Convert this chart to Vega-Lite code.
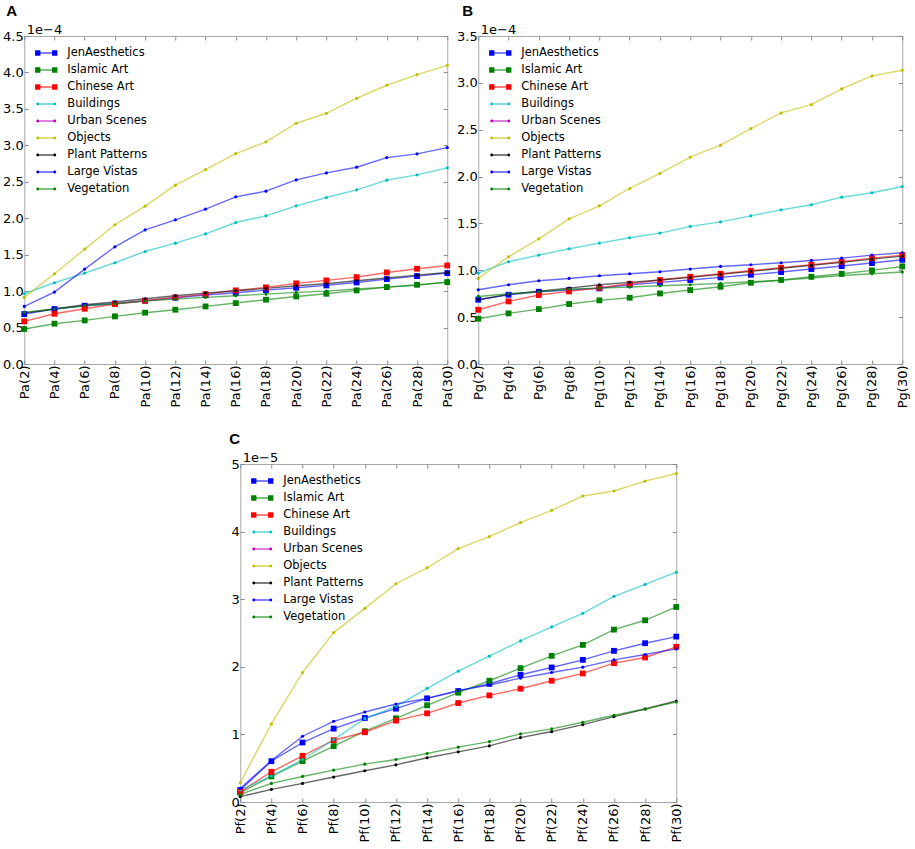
{
"$schema":"https://vega.github.io/schema/vega-lite/v6.json",
"padding":{"left":2,"top":3,"right":0,"bottom":0},
"background":"white",
"config":{
 "view":{"stroke":"#a8a8a8","strokeWidth":1},
 "axis":{"labelFont":"DejaVu Sans","labelFontSize":13,"labelColor":"black","grid":false,"domain":false,"tickColor":"#888","tickSize":-4,"labelPadding":5},
 "title":{"font":"Liberation Sans","fontSize":15,"fontWeight":"bold","anchor":"start","frame":"group","color":"black"},
 "legend":{"orient":"none","legendX":11,"legendY":6,"padding":0,"labelFont":"DejaVu Sans","labelFontSize":11.5,"labelColor":"black","symbolSize":450,"symbolOpacity":1,"symbolStrokeWidth":0,"rowPadding":-1,"labelOffset":10,"title":null}
},
"datasets":{
 "A":[
  {"n":2,"x":"Pa(2)","JenAesthetics":0.685e-4,"Islamic Art":0.480e-4,"Chinese Art":0.585e-4,"Buildings":0.964e-4,"Urban Scenes":null,"Objects":0.914e-4,"Plant Patterns":0.699e-4,"Large Vistas":0.790e-4,"Vegetation":0.708e-4},
  {"n":4,"x":"Pa(4)","JenAesthetics":0.754e-4,"Islamic Art":0.553e-4,"Chinese Art":0.690e-4,"Buildings":1.115e-4,"Urban Scenes":null,"Objects":1.238e-4,"Plant Patterns":0.754e-4,"Large Vistas":0.987e-4,"Vegetation":0.754e-4},
  {"n":6,"x":"Pa(6)","JenAesthetics":0.800e-4,"Islamic Art":0.598e-4,"Chinese Art":0.758e-4,"Buildings":1.247e-4,"Urban Scenes":null,"Objects":1.576e-4,"Plant Patterns":0.813e-4,"Large Vistas":1.302e-4,"Vegetation":0.800e-4},
  {"n":8,"x":"Pa(8)","JenAesthetics":0.831e-4,"Islamic Art":0.653e-4,"Chinese Art":0.822e-4,"Buildings":1.389e-4,"Urban Scenes":null,"Objects":1.910e-4,"Plant Patterns":0.850e-4,"Large Vistas":1.608e-4,"Vegetation":0.827e-4},
  {"n":10,"x":"Pa(10)","JenAesthetics":0.868e-4,"Islamic Art":0.704e-4,"Chinese Art":0.868e-4,"Buildings":1.544e-4,"Urban Scenes":null,"Objects":2.165e-4,"Plant Patterns":0.895e-4,"Large Vistas":1.841e-4,"Vegetation":0.863e-4},
  {"n":12,"x":"Pa(12)","JenAesthetics":0.909e-4,"Islamic Art":0.745e-4,"Chinese Art":0.914e-4,"Buildings":1.658e-4,"Urban Scenes":null,"Objects":2.453e-4,"Plant Patterns":0.936e-4,"Large Vistas":1.978e-4,"Vegetation":0.891e-4},
  {"n":14,"x":"Pa(14)","JenAesthetics":0.946e-4,"Islamic Art":0.790e-4,"Chinese Art":0.959e-4,"Buildings":1.786e-4,"Urban Scenes":null,"Objects":2.668e-4,"Plant Patterns":0.973e-4,"Large Vistas":2.124e-4,"Vegetation":0.914e-4},
  {"n":16,"x":"Pa(16)","JenAesthetics":0.978e-4,"Islamic Art":0.836e-4,"Chinese Art":1.010e-4,"Buildings":1.941e-4,"Urban Scenes":null,"Objects":2.887e-4,"Plant Patterns":1.005e-4,"Large Vistas":2.293e-4,"Vegetation":0.937e-4},
  {"n":18,"x":"Pa(18)","JenAesthetics":1.014e-4,"Islamic Art":0.882e-4,"Chinese Art":1.051e-4,"Buildings":2.033e-4,"Urban Scenes":null,"Objects":3.047e-4,"Plant Patterns":1.037e-4,"Large Vistas":2.371e-4,"Vegetation":0.959e-4},
  {"n":20,"x":"Pa(20)","JenAesthetics":1.046e-4,"Islamic Art":0.927e-4,"Chinese Art":1.106e-4,"Buildings":2.170e-4,"Urban Scenes":null,"Objects":3.303e-4,"Plant Patterns":1.074e-4,"Large Vistas":2.526e-4,"Vegetation":0.982e-4},
  {"n":22,"x":"Pa(22)","JenAesthetics":1.078e-4,"Islamic Art":0.964e-4,"Chinese Art":1.147e-4,"Buildings":2.284e-4,"Urban Scenes":null,"Objects":3.440e-4,"Plant Patterns":1.101e-4,"Large Vistas":2.622e-4,"Vegetation":1.000e-4},
  {"n":24,"x":"Pa(24)","JenAesthetics":1.119e-4,"Islamic Art":1.010e-4,"Chinese Art":1.192e-4,"Buildings":2.389e-4,"Urban Scenes":null,"Objects":3.646e-4,"Plant Patterns":1.142e-4,"Large Vistas":2.700e-4,"Vegetation":1.028e-4},
  {"n":26,"x":"Pa(26)","JenAesthetics":1.165e-4,"Islamic Art":1.055e-4,"Chinese Art":1.256e-4,"Buildings":2.522e-4,"Urban Scenes":null,"Objects":3.824e-4,"Plant Patterns":1.179e-4,"Large Vistas":2.832e-4,"Vegetation":1.055e-4},
  {"n":28,"x":"Pa(28)","JenAesthetics":1.206e-4,"Islamic Art":1.087e-4,"Chinese Art":1.307e-4,"Buildings":2.595e-4,"Urban Scenes":null,"Objects":3.970e-4,"Plant Patterns":1.220e-4,"Large Vistas":2.883e-4,"Vegetation":1.078e-4},
  {"n":30,"x":"Pa(30)","JenAesthetics":1.247e-4,"Islamic Art":1.124e-4,"Chinese Art":1.352e-4,"Buildings":2.691e-4,"Urban Scenes":null,"Objects":4.098e-4,"Plant Patterns":1.256e-4,"Large Vistas":2.969e-4,"Vegetation":1.124e-4}
 ],
 "B":[
  {"n":2,"x":"Pg(2)","JenAesthetics":0.686e-4,"Islamic Art":0.483e-4,"Chinese Art":0.579e-4,"Buildings":0.970e-4,"Urban Scenes":null,"Objects":0.913e-4,"Plant Patterns":0.686e-4,"Large Vistas":0.792e-4,"Vegetation":0.721e-4},
  {"n":4,"x":"Pg(4)","JenAesthetics":0.739e-4,"Islamic Art":0.540e-4,"Chinese Art":0.668e-4,"Buildings":1.091e-4,"Urban Scenes":null,"Objects":1.144e-4,"Plant Patterns":0.743e-4,"Large Vistas":0.846e-4,"Vegetation":0.750e-4},
  {"n":6,"x":"Pg(6)","JenAesthetics":0.771e-4,"Islamic Art":0.586e-4,"Chinese Art":0.736e-4,"Buildings":1.162e-4,"Urban Scenes":null,"Objects":1.336e-4,"Plant Patterns":0.778e-4,"Large Vistas":0.888e-4,"Vegetation":0.771e-4},
  {"n":8,"x":"Pg(8)","JenAesthetics":0.789e-4,"Islamic Art":0.640e-4,"Chinese Art":0.775e-4,"Buildings":1.230e-4,"Urban Scenes":null,"Objects":1.549e-4,"Plant Patterns":0.810e-4,"Large Vistas":0.913e-4,"Vegetation":0.800e-4},
  {"n":10,"x":"Pg(10)","JenAesthetics":0.807e-4,"Islamic Art":0.679e-4,"Chinese Art":0.814e-4,"Buildings":1.290e-4,"Urban Scenes":null,"Objects":1.688e-4,"Plant Patterns":0.846e-4,"Large Vistas":0.942e-4,"Vegetation":0.810e-4},
  {"n":12,"x":"Pg(12)","JenAesthetics":0.846e-4,"Islamic Art":0.707e-4,"Chinese Art":0.856e-4,"Buildings":1.347e-4,"Urban Scenes":null,"Objects":1.873e-4,"Plant Patterns":0.871e-4,"Large Vistas":0.963e-4,"Vegetation":0.821e-4},
  {"n":14,"x":"Pg(14)","JenAesthetics":0.871e-4,"Islamic Art":0.753e-4,"Chinese Art":0.896e-4,"Buildings":1.397e-4,"Urban Scenes":null,"Objects":2.033e-4,"Plant Patterns":0.896e-4,"Large Vistas":0.984e-4,"Vegetation":0.835e-4},
  {"n":16,"x":"Pg(16)","JenAesthetics":0.896e-4,"Islamic Art":0.789e-4,"Chinese Art":0.931e-4,"Buildings":1.468e-4,"Urban Scenes":null,"Objects":2.207e-4,"Plant Patterns":0.924e-4,"Large Vistas":1.013e-4,"Vegetation":0.846e-4},
  {"n":18,"x":"Pg(18)","JenAesthetics":0.924e-4,"Islamic Art":0.824e-4,"Chinese Art":0.963e-4,"Buildings":1.517e-4,"Urban Scenes":null,"Objects":2.335e-4,"Plant Patterns":0.956e-4,"Large Vistas":1.041e-4,"Vegetation":0.860e-4},
  {"n":20,"x":"Pg(20)","JenAesthetics":0.952e-4,"Islamic Art":0.867e-4,"Chinese Art":0.995e-4,"Buildings":1.581e-4,"Urban Scenes":null,"Objects":2.512e-4,"Plant Patterns":0.988e-4,"Large Vistas":1.059e-4,"Vegetation":0.878e-4},
  {"n":22,"x":"Pg(22)","JenAesthetics":0.981e-4,"Islamic Art":0.896e-4,"Chinese Art":1.027e-4,"Buildings":1.645e-4,"Urban Scenes":null,"Objects":2.679e-4,"Plant Patterns":1.020e-4,"Large Vistas":1.080e-4,"Vegetation":0.892e-4},
  {"n":24,"x":"Pg(24)","JenAesthetics":1.013e-4,"Islamic Art":0.931e-4,"Chinese Art":1.059e-4,"Buildings":1.699e-4,"Urban Scenes":null,"Objects":2.768e-4,"Plant Patterns":1.052e-4,"Large Vistas":1.105e-4,"Vegetation":0.917e-4},
  {"n":26,"x":"Pg(26)","JenAesthetics":1.045e-4,"Islamic Art":0.963e-4,"Chinese Art":1.091e-4,"Buildings":1.780e-4,"Urban Scenes":null,"Objects":2.935e-4,"Plant Patterns":1.084e-4,"Large Vistas":1.130e-4,"Vegetation":0.945e-4},
  {"n":28,"x":"Pg(28)","JenAesthetics":1.077e-4,"Islamic Art":0.999e-4,"Chinese Art":1.130e-4,"Buildings":1.827e-4,"Urban Scenes":null,"Objects":3.074e-4,"Plant Patterns":1.119e-4,"Large Vistas":1.162e-4,"Vegetation":0.963e-4},
  {"n":30,"x":"Pg(30)","JenAesthetics":1.112e-4,"Islamic Art":1.041e-4,"Chinese Art":1.162e-4,"Buildings":1.894e-4,"Urban Scenes":null,"Objects":3.134e-4,"Plant Patterns":1.151e-4,"Large Vistas":1.187e-4,"Vegetation":0.981e-4}
 ],
 "C":[
  {"n":2,"x":"Pf(2)","JenAesthetics":0.177e-5,"Islamic Art":0.138e-5,"Chinese Art":0.152e-5,"Buildings":0.177e-5,"Urban Scenes":null,"Objects":0.285e-5,"Plant Patterns":0.079e-5,"Large Vistas":0.201e-5,"Vegetation":0.113e-5},
  {"n":4,"x":"Pf(4)","JenAesthetics":0.604e-5,"Islamic Art":0.378e-5,"Chinese Art":0.447e-5,"Buildings":0.383e-5,"Urban Scenes":null,"Objects":1.155e-5,"Plant Patterns":0.187e-5,"Large Vistas":0.614e-5,"Vegetation":0.275e-5},
  {"n":6,"x":"Pf(6)","JenAesthetics":0.880e-5,"Islamic Art":0.604e-5,"Chinese Art":0.683e-5,"Buildings":0.629e-5,"Urban Scenes":null,"Objects":1.916e-5,"Plant Patterns":0.275e-5,"Large Vistas":0.973e-5,"Vegetation":0.378e-5},
  {"n":8,"x":"Pf(8)","JenAesthetics":1.086e-5,"Islamic Art":0.826e-5,"Chinese Art":0.914e-5,"Buildings":0.924e-5,"Urban Scenes":null,"Objects":2.506e-5,"Plant Patterns":0.369e-5,"Large Vistas":1.194e-5,"Vegetation":0.472e-5},
  {"n":10,"x":"Pf(10)","JenAesthetics":1.243e-5,"Islamic Art":1.047e-5,"Chinese Art":1.032e-5,"Buildings":1.233e-5,"Urban Scenes":null,"Objects":2.865e-5,"Plant Patterns":0.462e-5,"Large Vistas":1.332e-5,"Vegetation":0.560e-5},
  {"n":12,"x":"Pf(12)","JenAesthetics":1.381e-5,"Islamic Art":1.238e-5,"Chinese Art":1.204e-5,"Buildings":1.415e-5,"Urban Scenes":null,"Objects":3.229e-5,"Plant Patterns":0.550e-5,"Large Vistas":1.450e-5,"Vegetation":0.629e-5},
  {"n":14,"x":"Pf(14)","JenAesthetics":1.533e-5,"Islamic Art":1.430e-5,"Chinese Art":1.312e-5,"Buildings":1.681e-5,"Urban Scenes":null,"Objects":3.464e-5,"Plant Patterns":0.654e-5,"Large Vistas":1.533e-5,"Vegetation":0.717e-5},
  {"n":16,"x":"Pf(16)","JenAesthetics":1.641e-5,"Islamic Art":1.617e-5,"Chinese Art":1.464e-5,"Buildings":1.936e-5,"Urban Scenes":null,"Objects":3.749e-5,"Plant Patterns":0.742e-5,"Large Vistas":1.651e-5,"Vegetation":0.811e-5},
  {"n":18,"x":"Pf(18)","JenAesthetics":1.749e-5,"Islamic Art":1.794e-5,"Chinese Art":1.577e-5,"Buildings":2.157e-5,"Urban Scenes":null,"Objects":3.926e-5,"Plant Patterns":0.831e-5,"Large Vistas":1.730e-5,"Vegetation":0.894e-5},
  {"n":20,"x":"Pf(20)","JenAesthetics":1.882e-5,"Islamic Art":1.980e-5,"Chinese Art":1.676e-5,"Buildings":2.383e-5,"Urban Scenes":null,"Objects":4.133e-5,"Plant Patterns":0.953e-5,"Large Vistas":1.833e-5,"Vegetation":1.007e-5},
  {"n":22,"x":"Pf(22)","JenAesthetics":1.990e-5,"Islamic Art":2.162e-5,"Chinese Art":1.794e-5,"Buildings":2.590e-5,"Urban Scenes":null,"Objects":4.314e-5,"Plant Patterns":1.042e-5,"Large Vistas":1.916e-5,"Vegetation":1.081e-5},
  {"n":24,"x":"Pf(24)","JenAesthetics":2.103e-5,"Islamic Art":2.324e-5,"Chinese Art":1.902e-5,"Buildings":2.791e-5,"Urban Scenes":null,"Objects":4.526e-5,"Plant Patterns":1.145e-5,"Large Vistas":1.995e-5,"Vegetation":1.179e-5},
  {"n":26,"x":"Pf(26)","JenAesthetics":2.236e-5,"Islamic Art":2.550e-5,"Chinese Art":2.054e-5,"Buildings":3.042e-5,"Urban Scenes":null,"Objects":4.600e-5,"Plant Patterns":1.263e-5,"Large Vistas":2.103e-5,"Vegetation":1.283e-5},
  {"n":28,"x":"Pf(28)","JenAesthetics":2.349e-5,"Islamic Art":2.688e-5,"Chinese Art":2.138e-5,"Buildings":3.219e-5,"Urban Scenes":null,"Objects":4.747e-5,"Plant Patterns":1.376e-5,"Large Vistas":2.182e-5,"Vegetation":1.376e-5},
  {"n":30,"x":"Pf(30)","JenAesthetics":2.447e-5,"Islamic Art":2.885e-5,"Chinese Art":2.295e-5,"Buildings":3.400e-5,"Urban Scenes":null,"Objects":4.860e-5,"Plant Patterns":1.494e-5,"Large Vistas":2.265e-5,"Vegetation":1.479e-5}
 ]
},
"vconcat":[
 {"hconcat":[
  {"title":{"text":"A","dx":-18,"offset":4},
   "width":423,"height":328,
   "data":{"name":"A"},
   "transform":[{"fold":["JenAesthetics","Islamic Art","Chinese Art","Buildings","Urban Scenes","Objects","Plant Patterns","Large Vistas","Vegetation"],"as":["series","value"]}],
   "layer":[
    {"mark":{"type":"point","filled":true,"opacity":0},
     "encoding":{
      "x":{"field":"x","type":"ordinal","sort":null,"scale":{"type":"point","padding":0},"axis":{"orient":"top","labels":false,"title":null}},
      "y":{"field":"value","type":"quantitative","scale":{"domain":[0,4.5e-4],"nice":false},"axis":{"orient":"right","labels":false,"title":null,"values":[0,0.5e-4,1e-4,1.5e-4,2e-4,2.5e-4,3e-4,3.5e-4,4e-4,4.5e-4]}},
      "color":{"field":"series","type":"nominal","scale":{"domain":["JenAesthetics","Islamic Art","Chinese Art","Buildings","Urban Scenes","Objects","Plant Patterns","Large Vistas","Vegetation"],"range":["#0000ff","#008000","#ff0000","#00bfbf","#bf00bf","#bfbf00","#000000","#0000ff","#008000"]}},
      "shape":{"field":"series","type":"nominal","scale":{"domain":["JenAesthetics","Islamic Art","Chinese Art","Buildings","Urban Scenes","Objects","Plant Patterns","Large Vistas","Vegetation"],"range":[
        "M-0.8,-0.05H0.8V0.05H-0.8Z M-1.05,-0.25H-0.55V0.25H-1.05Z M0.55,-0.25H1.05V0.25H0.55Z",
        "M-0.8,-0.05H0.8V0.05H-0.8Z M-1.05,-0.25H-0.55V0.25H-1.05Z M0.55,-0.25H1.05V0.25H0.55Z",
        "M-0.8,-0.05H0.8V0.05H-0.8Z M-1.05,-0.25H-0.55V0.25H-1.05Z M0.55,-0.25H1.05V0.25H0.55Z",
        "M-0.8,-0.05H0.8V0.05H-0.8Z M-0.94,0a0.14,0.14 0 1,1 0.28,0a0.14,0.14 0 1,1 -0.28,0Z M0.66,0a0.14,0.14 0 1,1 0.28,0a0.14,0.14 0 1,1 -0.28,0Z",
        "M-0.8,-0.05H0.8V0.05H-0.8Z M-0.94,0a0.14,0.14 0 1,1 0.28,0a0.14,0.14 0 1,1 -0.28,0Z M0.66,0a0.14,0.14 0 1,1 0.28,0a0.14,0.14 0 1,1 -0.28,0Z",
        "M-0.8,-0.05H0.8V0.05H-0.8Z M-0.94,0a0.14,0.14 0 1,1 0.28,0a0.14,0.14 0 1,1 -0.28,0Z M0.66,0a0.14,0.14 0 1,1 0.28,0a0.14,0.14 0 1,1 -0.28,0Z",
        "M-0.8,-0.05H0.8V0.05H-0.8Z M-0.94,0a0.14,0.14 0 1,1 0.28,0a0.14,0.14 0 1,1 -0.28,0Z M0.66,0a0.14,0.14 0 1,1 0.28,0a0.14,0.14 0 1,1 -0.28,0Z",
        "M-0.8,-0.05H0.8V0.05H-0.8Z M-0.94,0a0.14,0.14 0 1,1 0.28,0a0.14,0.14 0 1,1 -0.28,0Z M0.66,0a0.14,0.14 0 1,1 0.28,0a0.14,0.14 0 1,1 -0.28,0Z",
        "M-0.8,-0.05H0.8V0.05H-0.8Z M-0.94,0a0.14,0.14 0 1,1 0.28,0a0.14,0.14 0 1,1 -0.28,0Z M0.66,0a0.14,0.14 0 1,1 0.28,0a0.14,0.14 0 1,1 -0.28,0Z"]}}}},
    {"mark":{"type":"line","strokeWidth":1.4,"opacity":0.6},
     "encoding":{
      "x":{"field":"x","type":"ordinal","sort":null,"scale":{"type":"point","padding":0},"axis":{"labelAngle":-90,"title":null}},
      "y":{"field":"value","type":"quantitative","scale":{"domain":[0,4.5e-4],"nice":false},"axis":{"values":[0,0.5e-4,1e-4,1.5e-4,2e-4,2.5e-4,3e-4,3.5e-4,4e-4,4.5e-4],"labelExpr":"format(datum.value*1e4,'.1f')","title":"1e−4","titleAngle":0,"titleX":2,"titleY":-3,"titleAlign":"left","titleBaseline":"alphabetic","titleFont":"DejaVu Sans","titleFontSize":13,"titleFontWeight":"normal","titleColor":"black"}},
      "color":{"field":"series","type":"nominal"},
      "order":{"field":"n","type":"quantitative"}}},
    {"transform":[{"filter":{"field":"series","oneOf":["JenAesthetics","Islamic Art","Chinese Art"]}}],
     "mark":{"type":"point","shape":"square","filled":true,"size":34,"opacity":1},
     "encoding":{
      "x":{"field":"x","type":"ordinal","sort":null,"scale":{"type":"point","padding":0},"axis":null},
      "y":{"field":"value","type":"quantitative","scale":{"domain":[0,4.5e-4],"nice":false},"axis":null},
      "color":{"field":"series","type":"nominal"}}},
    {"transform":[{"filter":{"field":"series","oneOf":["Buildings","Urban Scenes","Objects","Plant Patterns","Large Vistas","Vegetation"]}}],
     "mark":{"type":"point","shape":"circle","filled":true,"size":10,"opacity":1},
     "encoding":{
      "x":{"field":"x","type":"ordinal","sort":null,"scale":{"type":"point","padding":0},"axis":null},
      "y":{"field":"value","type":"quantitative","scale":{"domain":[0,4.5e-4],"nice":false},"axis":null},
      "color":{"field":"series","type":"nominal"}}}
   ],
   "resolve":{"axis":{"x":"independent","y":"independent"}}
  },
  {"title":{"text":"B","dx":-16,"offset":4},
   "width":424,"height":328,
   "data":{"name":"B"},
   "transform":[{"fold":["JenAesthetics","Islamic Art","Chinese Art","Buildings","Urban Scenes","Objects","Plant Patterns","Large Vistas","Vegetation"],"as":["series","value"]}],
   "layer":[
    {"mark":{"type":"point","filled":true,"opacity":0},
     "encoding":{
      "x":{"field":"x","type":"ordinal","sort":null,"scale":{"type":"point","padding":0},"axis":{"orient":"top","labels":false,"title":null}},
      "y":{"field":"value","type":"quantitative","scale":{"domain":[0,3.5e-4],"nice":false},"axis":{"orient":"right","labels":false,"title":null,"values":[0,0.5e-4,1e-4,1.5e-4,2e-4,2.5e-4,3e-4,3.5e-4]}},
      "color":{"field":"series","type":"nominal","scale":{"domain":["JenAesthetics","Islamic Art","Chinese Art","Buildings","Urban Scenes","Objects","Plant Patterns","Large Vistas","Vegetation"],"range":["#0000ff","#008000","#ff0000","#00bfbf","#bf00bf","#bfbf00","#000000","#0000ff","#008000"]}},
      "shape":{"field":"series","type":"nominal","scale":{"domain":["JenAesthetics","Islamic Art","Chinese Art","Buildings","Urban Scenes","Objects","Plant Patterns","Large Vistas","Vegetation"],"range":[
        "M-0.8,-0.05H0.8V0.05H-0.8Z M-1.05,-0.25H-0.55V0.25H-1.05Z M0.55,-0.25H1.05V0.25H0.55Z",
        "M-0.8,-0.05H0.8V0.05H-0.8Z M-1.05,-0.25H-0.55V0.25H-1.05Z M0.55,-0.25H1.05V0.25H0.55Z",
        "M-0.8,-0.05H0.8V0.05H-0.8Z M-1.05,-0.25H-0.55V0.25H-1.05Z M0.55,-0.25H1.05V0.25H0.55Z",
        "M-0.8,-0.05H0.8V0.05H-0.8Z M-0.94,0a0.14,0.14 0 1,1 0.28,0a0.14,0.14 0 1,1 -0.28,0Z M0.66,0a0.14,0.14 0 1,1 0.28,0a0.14,0.14 0 1,1 -0.28,0Z",
        "M-0.8,-0.05H0.8V0.05H-0.8Z M-0.94,0a0.14,0.14 0 1,1 0.28,0a0.14,0.14 0 1,1 -0.28,0Z M0.66,0a0.14,0.14 0 1,1 0.28,0a0.14,0.14 0 1,1 -0.28,0Z",
        "M-0.8,-0.05H0.8V0.05H-0.8Z M-0.94,0a0.14,0.14 0 1,1 0.28,0a0.14,0.14 0 1,1 -0.28,0Z M0.66,0a0.14,0.14 0 1,1 0.28,0a0.14,0.14 0 1,1 -0.28,0Z",
        "M-0.8,-0.05H0.8V0.05H-0.8Z M-0.94,0a0.14,0.14 0 1,1 0.28,0a0.14,0.14 0 1,1 -0.28,0Z M0.66,0a0.14,0.14 0 1,1 0.28,0a0.14,0.14 0 1,1 -0.28,0Z",
        "M-0.8,-0.05H0.8V0.05H-0.8Z M-0.94,0a0.14,0.14 0 1,1 0.28,0a0.14,0.14 0 1,1 -0.28,0Z M0.66,0a0.14,0.14 0 1,1 0.28,0a0.14,0.14 0 1,1 -0.28,0Z",
        "M-0.8,-0.05H0.8V0.05H-0.8Z M-0.94,0a0.14,0.14 0 1,1 0.28,0a0.14,0.14 0 1,1 -0.28,0Z M0.66,0a0.14,0.14 0 1,1 0.28,0a0.14,0.14 0 1,1 -0.28,0Z"]}}}},
    {"mark":{"type":"line","strokeWidth":1.4,"opacity":0.6},
     "encoding":{
      "x":{"field":"x","type":"ordinal","sort":null,"scale":{"type":"point","padding":0},"axis":{"labelAngle":-90,"title":null}},
      "y":{"field":"value","type":"quantitative","scale":{"domain":[0,3.5e-4],"nice":false},"axis":{"values":[0,0.5e-4,1e-4,1.5e-4,2e-4,2.5e-4,3e-4,3.5e-4],"labelExpr":"format(datum.value*1e4,'.1f')","title":"1e−4","titleAngle":0,"titleX":2,"titleY":-3,"titleAlign":"left","titleBaseline":"alphabetic","titleFont":"DejaVu Sans","titleFontSize":13,"titleFontWeight":"normal","titleColor":"black"}},
      "color":{"field":"series","type":"nominal"},
      "order":{"field":"n","type":"quantitative"}}},
    {"transform":[{"filter":{"field":"series","oneOf":["JenAesthetics","Islamic Art","Chinese Art"]}}],
     "mark":{"type":"point","shape":"square","filled":true,"size":34,"opacity":1},
     "encoding":{
      "x":{"field":"x","type":"ordinal","sort":null,"scale":{"type":"point","padding":0},"axis":null},
      "y":{"field":"value","type":"quantitative","scale":{"domain":[0,3.5e-4],"nice":false},"axis":null},
      "color":{"field":"series","type":"nominal"}}},
    {"transform":[{"filter":{"field":"series","oneOf":["Buildings","Urban Scenes","Objects","Plant Patterns","Large Vistas","Vegetation"]}}],
     "mark":{"type":"point","shape":"circle","filled":true,"size":10,"opacity":1},
     "encoding":{
      "x":{"field":"x","type":"ordinal","sort":null,"scale":{"type":"point","padding":0},"axis":null},
      "y":{"field":"value","type":"quantitative","scale":{"domain":[0,3.5e-4],"nice":false},"axis":null},
      "color":{"field":"series","type":"nominal"}}}
   ],
   "resolve":{"axis":{"x":"independent","y":"independent"}}
  }
 ],"spacing":0,
 "resolve":{"scale":{"color":"independent","shape":"independent"},"legend":{"color":"independent","shape":"independent"}}},
 {"title":{"text":"C","dx":-11,"offset":4},
  "width":436,"height":338,
  "data":{"name":"C"},
  "transform":[{"fold":["JenAesthetics","Islamic Art","Chinese Art","Buildings","Urban Scenes","Objects","Plant Patterns","Large Vistas","Vegetation"],"as":["series","value"]}],
  "layer":[
   {"mark":{"type":"point","filled":true,"opacity":0},
    "encoding":{
     "x":{"field":"x","type":"ordinal","sort":null,"scale":{"type":"point","padding":0},"axis":{"orient":"top","labels":false,"title":null}},
     "y":{"field":"value","type":"quantitative","scale":{"domain":[0,5e-5],"nice":false},"axis":{"orient":"right","labels":false,"title":null,"values":[0,1e-5,2e-5,3e-5,4e-5,5e-5]}},
     "color":{"field":"series","type":"nominal","scale":{"domain":["JenAesthetics","Islamic Art","Chinese Art","Buildings","Urban Scenes","Objects","Plant Patterns","Large Vistas","Vegetation"],"range":["#0000ff","#008000","#ff0000","#00bfbf","#bf00bf","#bfbf00","#000000","#0000ff","#008000"]}},
     "shape":{"field":"series","type":"nominal","scale":{"domain":["JenAesthetics","Islamic Art","Chinese Art","Buildings","Urban Scenes","Objects","Plant Patterns","Large Vistas","Vegetation"],"range":[
        "M-0.8,-0.05H0.8V0.05H-0.8Z M-1.05,-0.25H-0.55V0.25H-1.05Z M0.55,-0.25H1.05V0.25H0.55Z",
        "M-0.8,-0.05H0.8V0.05H-0.8Z M-1.05,-0.25H-0.55V0.25H-1.05Z M0.55,-0.25H1.05V0.25H0.55Z",
        "M-0.8,-0.05H0.8V0.05H-0.8Z M-1.05,-0.25H-0.55V0.25H-1.05Z M0.55,-0.25H1.05V0.25H0.55Z",
        "M-0.8,-0.05H0.8V0.05H-0.8Z M-0.94,0a0.14,0.14 0 1,1 0.28,0a0.14,0.14 0 1,1 -0.28,0Z M0.66,0a0.14,0.14 0 1,1 0.28,0a0.14,0.14 0 1,1 -0.28,0Z",
        "M-0.8,-0.05H0.8V0.05H-0.8Z M-0.94,0a0.14,0.14 0 1,1 0.28,0a0.14,0.14 0 1,1 -0.28,0Z M0.66,0a0.14,0.14 0 1,1 0.28,0a0.14,0.14 0 1,1 -0.28,0Z",
        "M-0.8,-0.05H0.8V0.05H-0.8Z M-0.94,0a0.14,0.14 0 1,1 0.28,0a0.14,0.14 0 1,1 -0.28,0Z M0.66,0a0.14,0.14 0 1,1 0.28,0a0.14,0.14 0 1,1 -0.28,0Z",
        "M-0.8,-0.05H0.8V0.05H-0.8Z M-0.94,0a0.14,0.14 0 1,1 0.28,0a0.14,0.14 0 1,1 -0.28,0Z M0.66,0a0.14,0.14 0 1,1 0.28,0a0.14,0.14 0 1,1 -0.28,0Z",
        "M-0.8,-0.05H0.8V0.05H-0.8Z M-0.94,0a0.14,0.14 0 1,1 0.28,0a0.14,0.14 0 1,1 -0.28,0Z M0.66,0a0.14,0.14 0 1,1 0.28,0a0.14,0.14 0 1,1 -0.28,0Z",
        "M-0.8,-0.05H0.8V0.05H-0.8Z M-0.94,0a0.14,0.14 0 1,1 0.28,0a0.14,0.14 0 1,1 -0.28,0Z M0.66,0a0.14,0.14 0 1,1 0.28,0a0.14,0.14 0 1,1 -0.28,0Z"]}}}},
   {"mark":{"type":"line","strokeWidth":1.4,"opacity":0.6},
    "encoding":{
     "x":{"field":"x","type":"ordinal","sort":null,"scale":{"type":"point","padding":0},"axis":{"labelAngle":-90,"title":null}},
     "y":{"field":"value","type":"quantitative","scale":{"domain":[0,5e-5],"nice":false},"axis":{"values":[0,1e-5,2e-5,3e-5,4e-5,5e-5],"labelExpr":"format(datum.value*1e5,'.0f')","title":"1e−5","titleAngle":0,"titleX":2,"titleY":-3,"titleAlign":"left","titleBaseline":"alphabetic","titleFont":"DejaVu Sans","titleFontSize":13,"titleFontWeight":"normal","titleColor":"black"}},
     "color":{"field":"series","type":"nominal"},
     "order":{"field":"n","type":"quantitative"}}},
   {"transform":[{"filter":{"field":"series","oneOf":["JenAesthetics","Islamic Art","Chinese Art"]}}],
    "mark":{"type":"point","shape":"square","filled":true,"size":34,"opacity":1},
    "encoding":{
     "x":{"field":"x","type":"ordinal","sort":null,"scale":{"type":"point","padding":0},"axis":null},
     "y":{"field":"value","type":"quantitative","scale":{"domain":[0,5e-5],"nice":false},"axis":{"orient":"right","labels":false,"domain":false,"title":null,"tickSize":17,"tickOpacity":0,"tickColor":"white","values":[0,5e-5]}},
     "color":{"field":"series","type":"nominal"}}},
   {"transform":[{"filter":{"field":"series","oneOf":["Buildings","Urban Scenes","Objects","Plant Patterns","Large Vistas","Vegetation"]}}],
    "mark":{"type":"point","shape":"circle","filled":true,"size":10,"opacity":1},
    "encoding":{
     "x":{"field":"x","type":"ordinal","sort":null,"scale":{"type":"point","padding":0},"axis":null},
     "y":{"field":"value","type":"quantitative","scale":{"domain":[0,5e-5],"nice":false},"axis":null},
     "color":{"field":"series","type":"nominal"}}}
  ],
  "resolve":{"axis":{"x":"independent","y":"independent"}}
 }
],
"spacing":22,
"center":true,
"resolve":{"scale":{"color":"independent","shape":"independent"},"legend":{"color":"independent","shape":"independent"}}
}
